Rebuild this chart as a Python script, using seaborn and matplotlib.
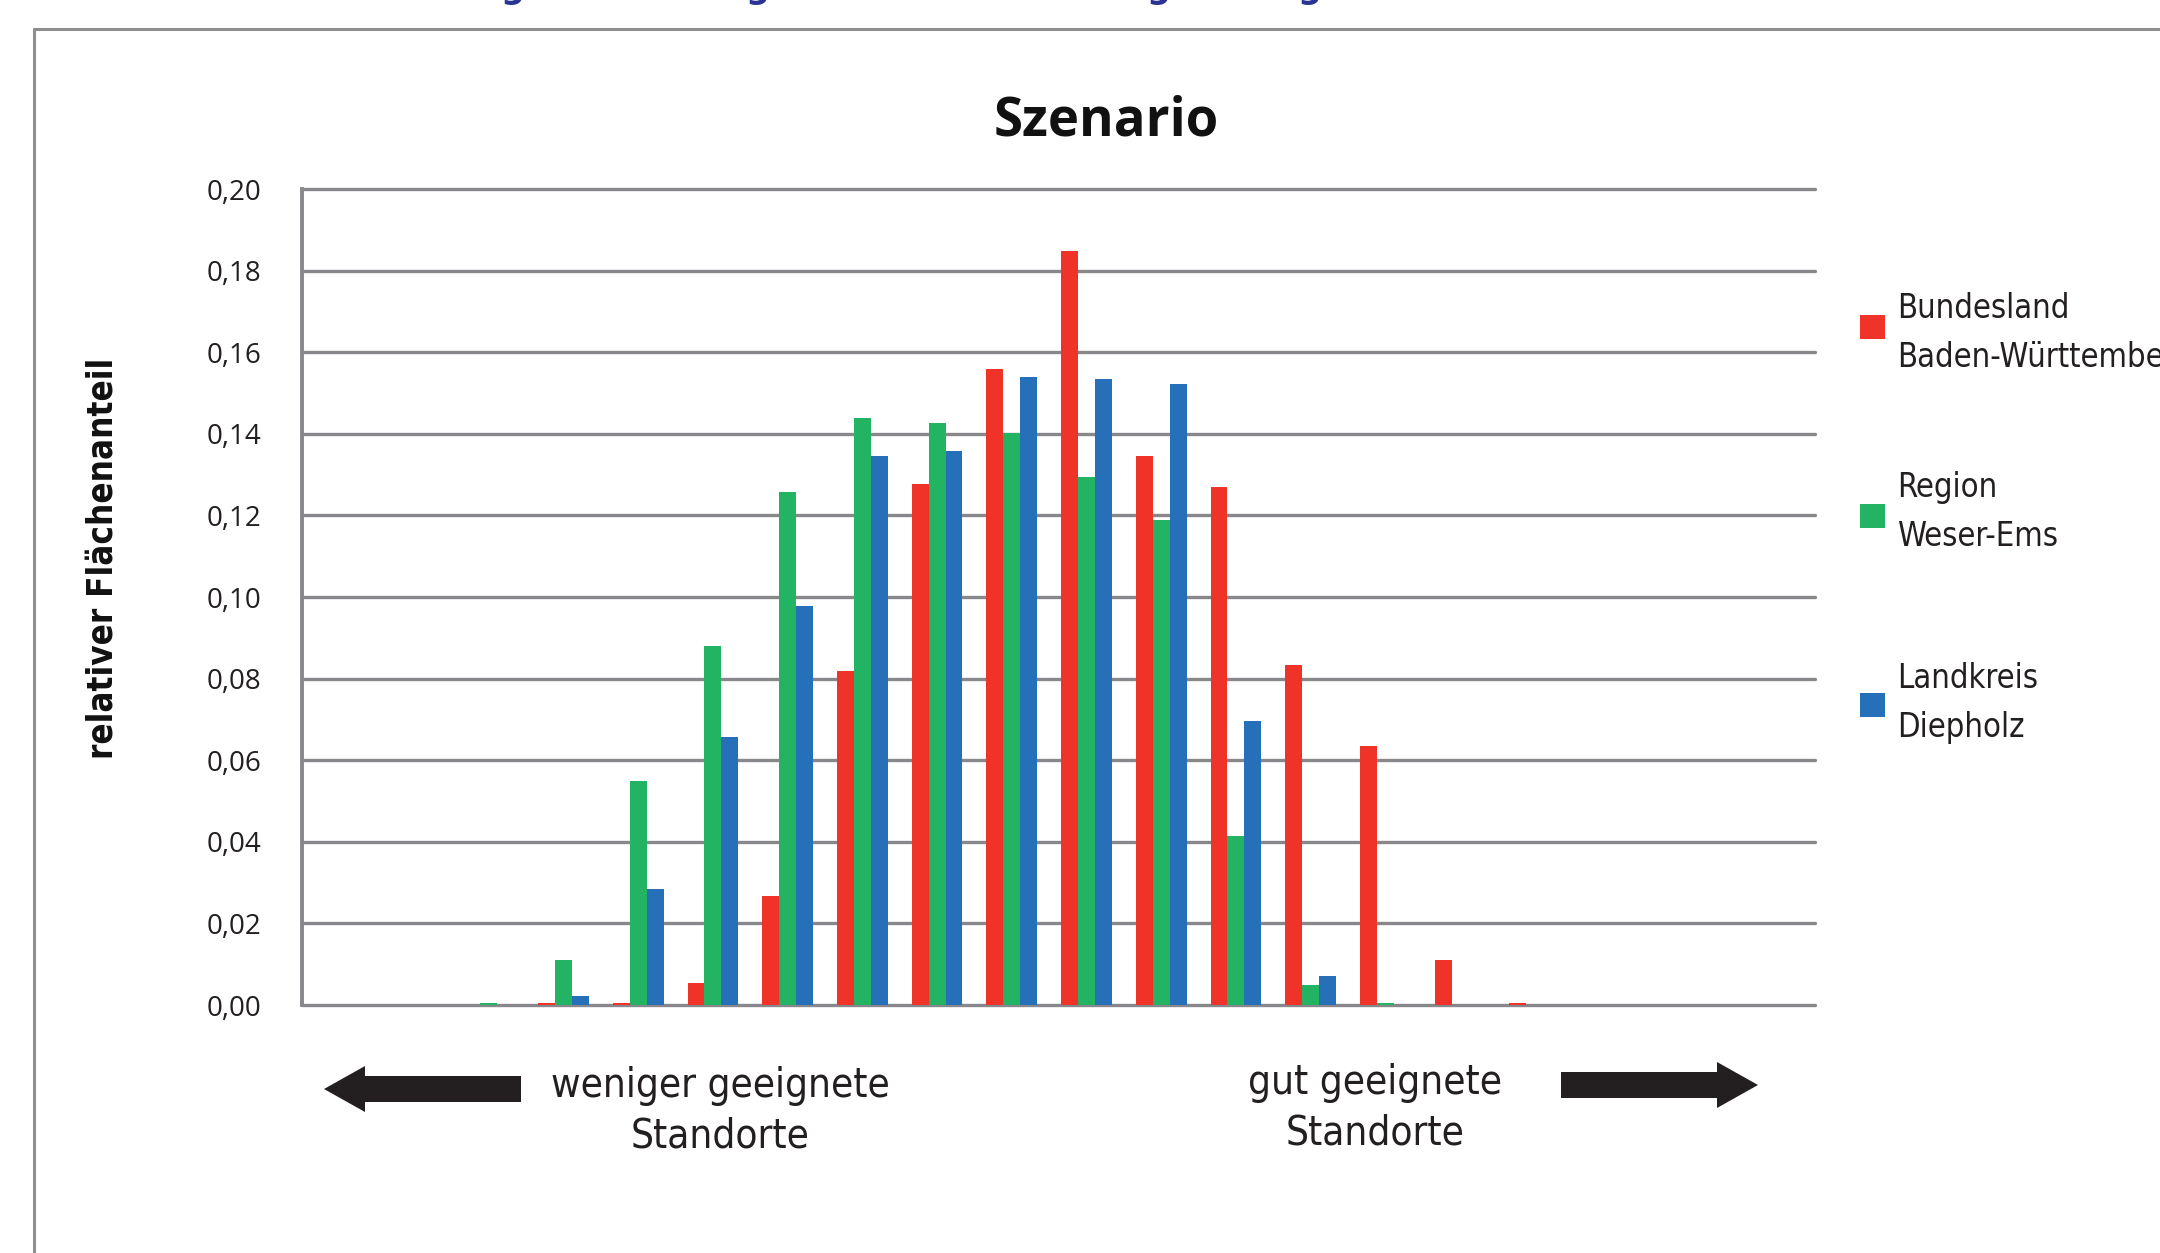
import numpy as np
import pandas as pd
import matplotlib
matplotlib.use("Agg")
import matplotlib.pyplot as plt
from matplotlib.patches import Rectangle, Polygon
from matplotlib.lines import Line2D
import seaborn as sns

# --- data -------------------------------------------------------------
klassen = [str(i) for i in range(1, 21)]

gebiete = ["Bundesland\nBaden-Württemberg", "Region\nWeser-Ems", "Landkreis\nDiepholz"]

baden_wuerttemberg = [0, 0, 0, 0.0006, 0.0006, 0.0054, 0.0266, 0.0818, 0.1277, 0.1558,
                      0.1847, 0.1345, 0.1270, 0.0833, 0.0634, 0.0111, 0.0006, 0, 0, 0]
weser_ems = [0, 0, 0.0006, 0.0110, 0.0550, 0.0879, 0.1257, 0.1439, 0.1427, 0.1403,
             0.1295, 0.1189, 0.0415, 0.0048, 0.0006, 0, 0, 0, 0, 0]
diepholz = [0, 0, 0, 0.0023, 0.0284, 0.0657, 0.0978, 0.1346, 0.1359, 0.1540,
            0.1534, 0.1522, 0.0695, 0.0072, 0, 0, 0, 0, 0, 0]

y_tick_values = [0.00, 0.02, 0.04, 0.06, 0.08, 0.10, 0.12, 0.14, 0.16, 0.18, 0.20]
y_tick_labels = ["0,00", "0,02", "0,04", "0,06", "0,08", "0,10",
                 "0,12", "0,14", "0,16", "0,18", "0,20"]

farben = ["#EF3329", "#22B363", "#2570B9"]
grau = "#88888C"

df = pd.DataFrame({
    "Klasse": klassen * 3,
    "Anteil": baden_wuerttemberg + weser_ems + diepholz,
    "Gebiet": [g for g in gebiete for _ in klassen],
})

# --- figure -----------------------------------------------------------
W, H = 2160, 1253
sns.set_theme(style="white")
plt.rcParams["font.family"] = ["Open Sans", "DejaVu Sans"]

fig = plt.figure(figsize=(W / 100, H / 100), dpi=100)
fig.patch.set_facecolor("white")


def fx(px):
    return px / W


def fy(py):
    return 1 - py / H


narrow = dict(family=["DejaVu Sans"], fontstretch="condensed")

# outer frame
fig.add_artist(Line2D([fx(34), 1.0], [fy(29), fy(29)], color="#8E8E90", lw=2.2,
                      transform=fig.transFigure))
fig.add_artist(Line2D([fx(34), fx(34)], [fy(29), 0.0], color="#8E8E90", lw=2.2,
                      transform=fig.transFigure))

# descenders of the heading line above the frame
for gx in [512, 757, 1158, 1309]:
    fig.text(fx(gx), fy(-2), "g", color="#2B3392", fontsize=24, fontweight="bold",
             ha="center", va="baseline", family=["DejaVu Sans"])

ax = fig.add_axes([fx(302), fy(1005), fx(1815) - fx(302), fy(189) - fy(1005)])

for v in y_tick_values:
    ax.axhline(v, color=grau, lw=2.4, zorder=0.5, clip_on=False)

sns.barplot(data=df, x="Klasse", y="Anteil", hue="Gebiet", order=klassen,
            hue_order=gebiete, palette=farben, width=0.68, saturation=1,
            linewidth=0, legend=False, ax=ax, zorder=2)

ax.set_xlim(-0.5, 19.75)
ax.set_ylim(0, 0.20)
ax.set_xticks([])
ax.set_xlabel("")
ax.set_ylabel("")
ax.set_yticks(y_tick_values)
ax.set_yticklabels(y_tick_labels, fontsize=20, color="#231F20")
ax.tick_params(axis="y", length=0, pad=29)
for side in ["top", "right", "bottom"]:
    ax.spines[side].set_visible(False)
ax.spines["left"].set_color(grau)
ax.spines["left"].set_linewidth(2.8)
ax.set_facecolor("white")

# title and axis label
fig.text(fx(1106), fy(121), "Szenario", fontsize=38, fontweight="bold",
         ha="center", va="center", color="#111111")
fig.text(fx(103), fy(558), "relativer Flächenanteil", fontsize=25, fontweight="bold",
         rotation=90, ha="center", va="center", color="#111111", **narrow)

# legend
legend_rows = [(327, 333), (516, 512), (705, 703)]
for (sq_y, txt_y), name, col in zip(legend_rows, gebiete, farben):
    fig.add_artist(Rectangle((fx(1860), fy(sq_y + 12)), fx(25), 24 / H,
                             facecolor=col, edgecolor="none", transform=fig.transFigure))
    fig.text(fx(1897), fy(txt_y), name, fontsize=23.5, ha="left", va="center",
             color="#231F20", linespacing=1.6, **narrow)

# direction arrows
def arrow(tail_x, tip_x, yc):
    d = 1 if tip_x > tail_x else -1
    head_base = tip_x - d * 41
    pts = [(tail_x, yc - 13), (head_base, yc - 13), (head_base, yc - 23), (tip_x, yc),
           (head_base, yc + 23), (head_base, yc + 13), (tail_x, yc + 13)]
    fig.add_artist(Polygon([(fx(x), fy(y)) for x, y in pts], closed=True,
                           facecolor="#231F20", edgecolor="none",
                           transform=fig.transFigure))


arrow(521, 324, 1089)
arrow(1561, 1758, 1085)

fig.text(fx(720), fy(1111), "weniger geeignete\nStandorte", fontsize=29, ha="center",
         va="center", color="#231F20", linespacing=1.35, **narrow)
fig.text(fx(1375), fy(1108), "gut geeignete\nStandorte", fontsize=29, ha="center",
         va="center", color="#231F20", linespacing=1.35, **narrow)

fig.savefig("out.png", dpi=100, facecolor="white")
